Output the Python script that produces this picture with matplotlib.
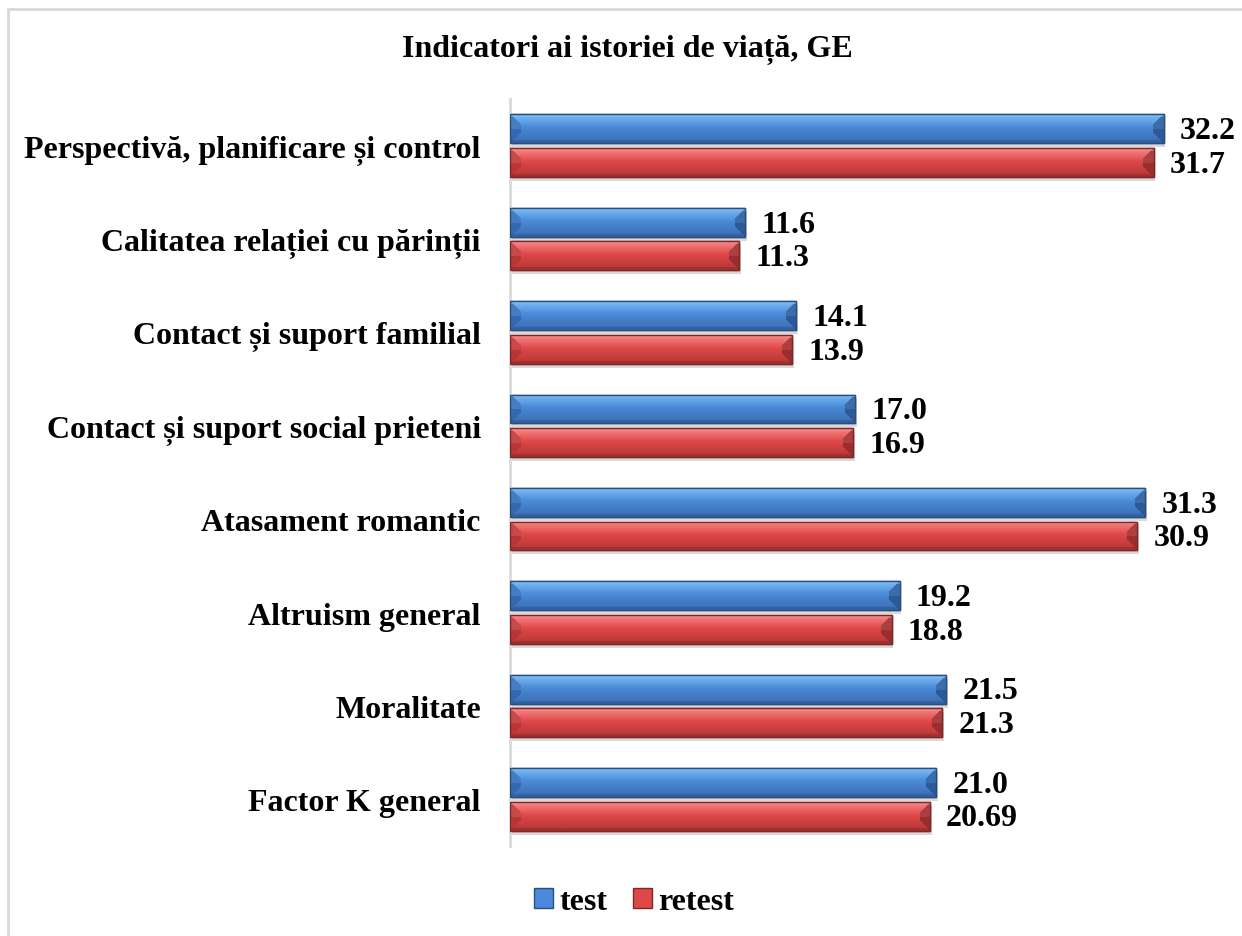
import numpy as np
import matplotlib
matplotlib.use("Agg")
import matplotlib.pyplot as plt
from matplotlib.patches import Rectangle, Patch
from matplotlib import transforms
from matplotlib.colors import to_rgb

# ---- data ----
categories = ["Perspectivă, planificare și control",
              "Calitatea relației cu părinții",
              "Contact și suport familial",
              "Contact și suport social prieteni",
              "Atasament romantic",
              "Altruism general",
              "Moralitate",
              "Factor K general"]
test_vals = [32.2, 11.6, 14.1, 17.0, 31.3, 19.2, 21.5, 21.0]
retest_vals = [31.7, 11.3, 13.9, 16.9, 30.9, 18.8, 21.3, 20.69]
test_labels = ["32.2", "11.6", "14.1", "17.0", "31.3", "19.2", "21.5", "21.0"]
retest_labels = ["31.7", "11.3", "13.9", "16.9", "30.9", "18.8", "21.3", "20.69"]
series_names = ["test", "retest"]
title = "Indicatori ai istoriei de viață, GE"

plt.rcParams['font.family'] = ['Liberation Serif', 'DejaVu Serif']
plt.rcParams['font.weight'] = 'bold'
FS = 23

W, H, DPI = 1242, 937, 100
fig = plt.figure(figsize=(W / DPI, H / DPI), dpi=DPI)
fig.patch.set_facecolor('white')

# light border round chart area
fig.add_artist(Rectangle((8 / W, -0.05), 1.2, 1 - 10 / H + 0.05, transform=fig.transFigure,
                         fill=False, edgecolor='#D9D9D9', linewidth=2.0))

ax = fig.add_axes([510 / W, 1 - 847 / H, (1220.5 - 510) / W, (847 - 100) / H])
ax.set_xlim(0, 35)
ax.set_ylim(len(categories) - 0.5, -0.5)

y = np.arange(len(categories))
bh = 0.31
off = 0.18

palettes = {
    'test': dict(top='#7DBDF5', body='#4A8AD8', low='#3A6DB2', edge='#2B4E80',
                 left='#3468B0', right='#2C5A98'),
    'retest': dict(top='#F78888', body='#DF4848', low='#B53636', edge='#7E2828',
                   left='#B83636', right='#9A2E2E'),
}


def bevel_image(wpx, hpx, pal):
    wpx = max(int(round(wpx)), 4)
    hpx = max(int(round(hpx)), 4)
    img = np.zeros((hpx, wpx, 3))
    top = np.array(to_rgb(pal['top']))
    body = np.array(to_rgb(pal['body']))
    low = np.array(to_rgb(pal['low']))
    for r in range(hpx):
        t = r / (hpx - 1)
        if t < 0.45:
            c = top * (1 - t / 0.45) + body * (t / 0.45)
        else:
            c = body * (1 - (t - 0.45) / 0.55) + low * ((t - 0.45) / 0.55)
        img[r, :, :] = c
    b = min(11, wpx // 3)
    left = np.array(to_rgb(pal['left']))
    right = np.array(to_rgb(pal['right']))
    lighter = np.array(to_rgb(pal['top']))
    for r in range(hpx):
        dt = r
        db = hpx - 1 - r
        for cidx in list(range(b)) + list(range(wpx - b, wpx)):
            dl = cidx
            dr = wpx - 1 - cidx
            m = min(dt, db, dl, dr)
            if m == dl and dl < b:
                img[r, cidx] = left if r > hpx / 2 else (left * 0.75 + lighter * 0.25)
            elif m == dr and dr < b:
                img[r, cidx] = right if r > hpx / 2 else (right * 0.8 + lighter * 0.2)
    img[0:3, :] = img[0:3, :] * 0.5 + lighter * 0.5
    img[-3:, :] = img[-3:, :] * 0.6 + np.array(to_rgb(pal['edge'])) * 0.4
    return img


fig.canvas.draw()
px_per_x = ax.transData.transform((1, 0))[0] - ax.transData.transform((0, 0))[0]
px_per_y = abs(ax.transData.transform((0, 1))[1] - ax.transData.transform((0, 0))[1])

shadow_tr = transforms.offset_copy(ax.transData, fig=fig, x=1.5, y=-4, units='dots')

for name, vals, labs, dy in [('test', test_vals, test_labels, -off),
                             ('retest', retest_vals, retest_labels, off)]:
    pal = palettes[name]
    ax.barh(y + dy, vals, height=bh, color='#C9C9C9', alpha=0.7, transform=shadow_tr,
            zorder=1, linewidth=0)
    bars = ax.barh(y + dy, vals, height=bh, color=pal['body'], edgecolor=pal['edge'],
                   linewidth=1.0, zorder=2, label=name)
    for bar, v, lab in zip(bars, vals, labs):
        x0, y0 = bar.get_x(), bar.get_y()
        w, h = bar.get_width(), bar.get_height()
        img = bevel_image(w * px_per_x, h * px_per_y, pal)
        im = ax.imshow(img, extent=(x0, x0 + w, y0 + h, y0), aspect='auto',
                       zorder=3, interpolation='bilinear')
        im.set_clip_path(bar)
        edge = Rectangle((x0, y0), w, h, fill=False, edgecolor=pal['edge'],
                         linewidth=1.0, zorder=4)
        ax.add_patch(edge)
        ax.text(v + 16 / px_per_x, y0 + h / 2 + 0.02, lab, va='center', ha='left',
                fontsize=FS, fontweight='bold', zorder=5)

ax.set_xlim(0, 35)
ax.set_ylim(len(categories) - 0.5, -0.5)
ax.set_yticks(y)
ax.set_yticklabels(categories, fontsize=FS, fontweight='bold')
ax.tick_params(axis='y', length=0, pad=21)
ax.set_xticks([])
for s in ['top', 'right', 'bottom']:
    ax.spines[s].set_visible(False)
ax.spines['left'].set_color('#D9D9D9')
ax.spines['left'].set_linewidth(2)

fig.text(627 / W, 1 - 50 / H, title, ha='center', va='center', fontsize=FS, fontweight='bold')

handles = [Patch(facecolor=palettes[n]['body'], edgecolor=palettes[n]['edge']) for n in series_names]
leg = fig.legend(handles, series_names, loc='center', bbox_to_anchor=(634 / W, 1 - 903 / H),
                 ncol=2, frameon=False, prop=dict(size=FS, weight='bold'),
                 handlelength=0.6, handleheight=0.6, handletextpad=0.2, columnspacing=0.8)

fig.savefig('out.png', dpi=DPI, facecolor='white')
